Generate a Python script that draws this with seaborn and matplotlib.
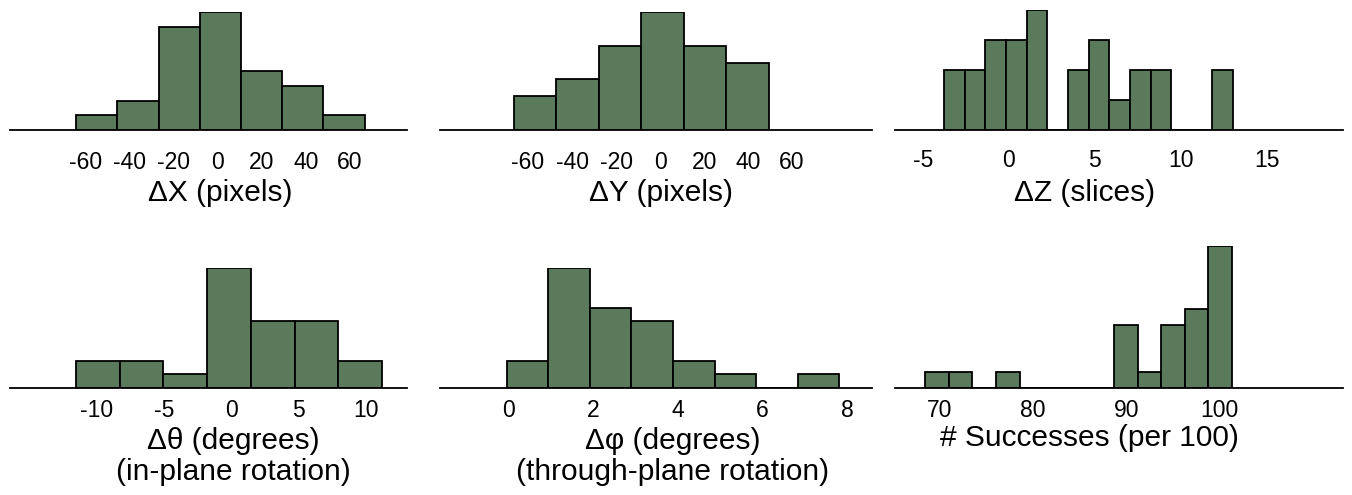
import numpy as np
import matplotlib
matplotlib.use("Agg")
import matplotlib.pyplot as plt
import matplotlib.transforms as mtransforms
import seaborn as sns

sns.set_style("white")
plt.rcParams['font.family'] = ['Liberation Sans', 'DejaVu Sans']
plt.rcParams['axes.unicode_minus'] = False
plt.rcParams['text.color'] = 'black'
plt.rcParams['axes.labelcolor'] = 'black'
plt.rcParams['xtick.color'] = 'black'

# ---- data: bin edges and counts per panel ----
dx_edges = [-64.2, -45.5, -26.8, -8.1, 10.6, 29.3, 48.0, 66.7]
dx_counts = [1, 2, 7, 8, 4, 3, 1]

dy_edges = [-66.5, -47.2, -27.9, -8.6, 10.7, 30.0, 49.3]
dy_counts = [2, 3, 5, 7, 5, 4]

dz_edges = [-3.75, -2.55, -1.35, -0.15, 1.05, 2.25, 3.45, 4.65, 5.85, 7.05,
            8.25, 9.45, 10.65, 11.85, 13.05]
dz_counts = [2, 2, 3, 3, 4, 0, 2, 3, 1, 2, 2, 0, 0, 2]

dtheta_edges = [-11.55, -8.3, -5.05, -1.8, 1.45, 4.7, 7.95, 11.2]
dtheta_counts = [2, 2, 1, 9, 5, 5, 2]

dphi_edges = [-0.05, 0.93, 1.92, 2.90, 3.89, 4.87, 5.85, 6.84, 7.82]
dphi_counts = [2, 9, 6, 5, 2, 1, 0, 1]

succ_edges = [68.42, 70.95, 73.48, 76.01, 78.54, 81.07, 83.60, 86.13, 88.66,
              91.19, 93.72, 96.25, 98.78, 101.31]
succ_counts = [1, 1, 0, 1, 0, 0, 0, 0, 4, 1, 4, 5, 9]

dx_ticks = [-60, -40, -20, 0, 20, 40, 60]
dy_ticks = [-60, -40, -20, 0, 20, 40, 60]
dz_ticks = [-5, 0, 5, 10, 15]
dtheta_ticks = [-10, -5, 0, 5, 10]
dphi_ticks = [0, 2, 4, 6, 8]
succ_ticks = [70, 80, 90, 100]

labels = ["ΔX (pixels)", "ΔY (pixels)", "ΔZ (slices)",
          "Δθ (degrees)\n(in-plane rotation)",
          "Δφ (degrees)\n(through-plane rotation)",
          "# Successes (per 100)"]

# ---- layout (pixels) ----
W, H = 1352, 495
BAR = "#5b7a5b"

panels = [
    # edges, counts, ticks, xlim, (x0, x1, top, base), label x frac, label y px, tick pad
    (dx_edges, dx_counts, dx_ticks, (-94.2, 85.9), (10, 407, 12, 130), 0.529, 193, 15),
    (dy_edges, dy_counts, dy_ticks, (-100.0, 96.3), (440, 872, 12, 130), 0.511, 193, 15),
    (dz_edges, dz_counts, dz_ticks, (-6.61, 19.44), (895, 1343, 10, 130), 0.424, 193, 14),
    (dtheta_edges, dtheta_counts, dtheta_ticks, (-16.47, 13.07), (10, 407, 268.3, 387.7), 0.562, 456.5, 8),
    (dphi_edges, dphi_counts, dphi_ticks, (-1.63, 8.59), (440, 872, 268.3, 387.7), 0.539, 456.5, 8),
    (succ_edges, succ_counts, succ_ticks, (65.2, 113.2), (895, 1343, 245.7, 387.7), 0.433, 438, 8),
]

fig = plt.figure(figsize=(W / 100, H / 100), dpi=100)

for (edges, counts, ticks, xlim, box, lx, ly, pad), lab in zip(panels, labels):
    x0, x1, top, base = box
    ax = fig.add_axes([x0 / W, 1 - base / H, (x1 - x0) / W, (base - top) / H])
    e = np.asarray(edges)
    centers = (e[:-1] + e[1:]) / 2
    sns.histplot(x=centers, weights=counts, bins=edges, ax=ax, color=BAR,
                 edgecolor="black", linewidth=1.3, alpha=1.0, stat="count")
    ax.set_xlim(*xlim)
    ax.set_ylim(0, max(counts))
    ax.set_yticks([])
    ax.set_ylabel("")
    ax.set_xticks(ticks)
    ax.set_xticklabels([str(t) for t in ticks])
    ax.tick_params(axis="x", length=0, pad=pad, labelsize=16.5, labelcolor="black")
    for s in ["left", "right", "top"]:
        ax.spines[s].set_visible(False)
    ax.spines["bottom"].set_linewidth(1.3)
    ax.spines["bottom"].set_color("black")
    ax.patch.set_alpha(0)
    ax.set_xlabel(lab, fontsize=21.5, va="center", ha="center", linespacing=1.18,
                  color="black")
    tr = mtransforms.blended_transform_factory(ax.transAxes, fig.transFigure)
    ax.xaxis.set_label_coords(lx, 1 - ly / H, transform=tr)

fig.savefig("out.png", dpi=100)
